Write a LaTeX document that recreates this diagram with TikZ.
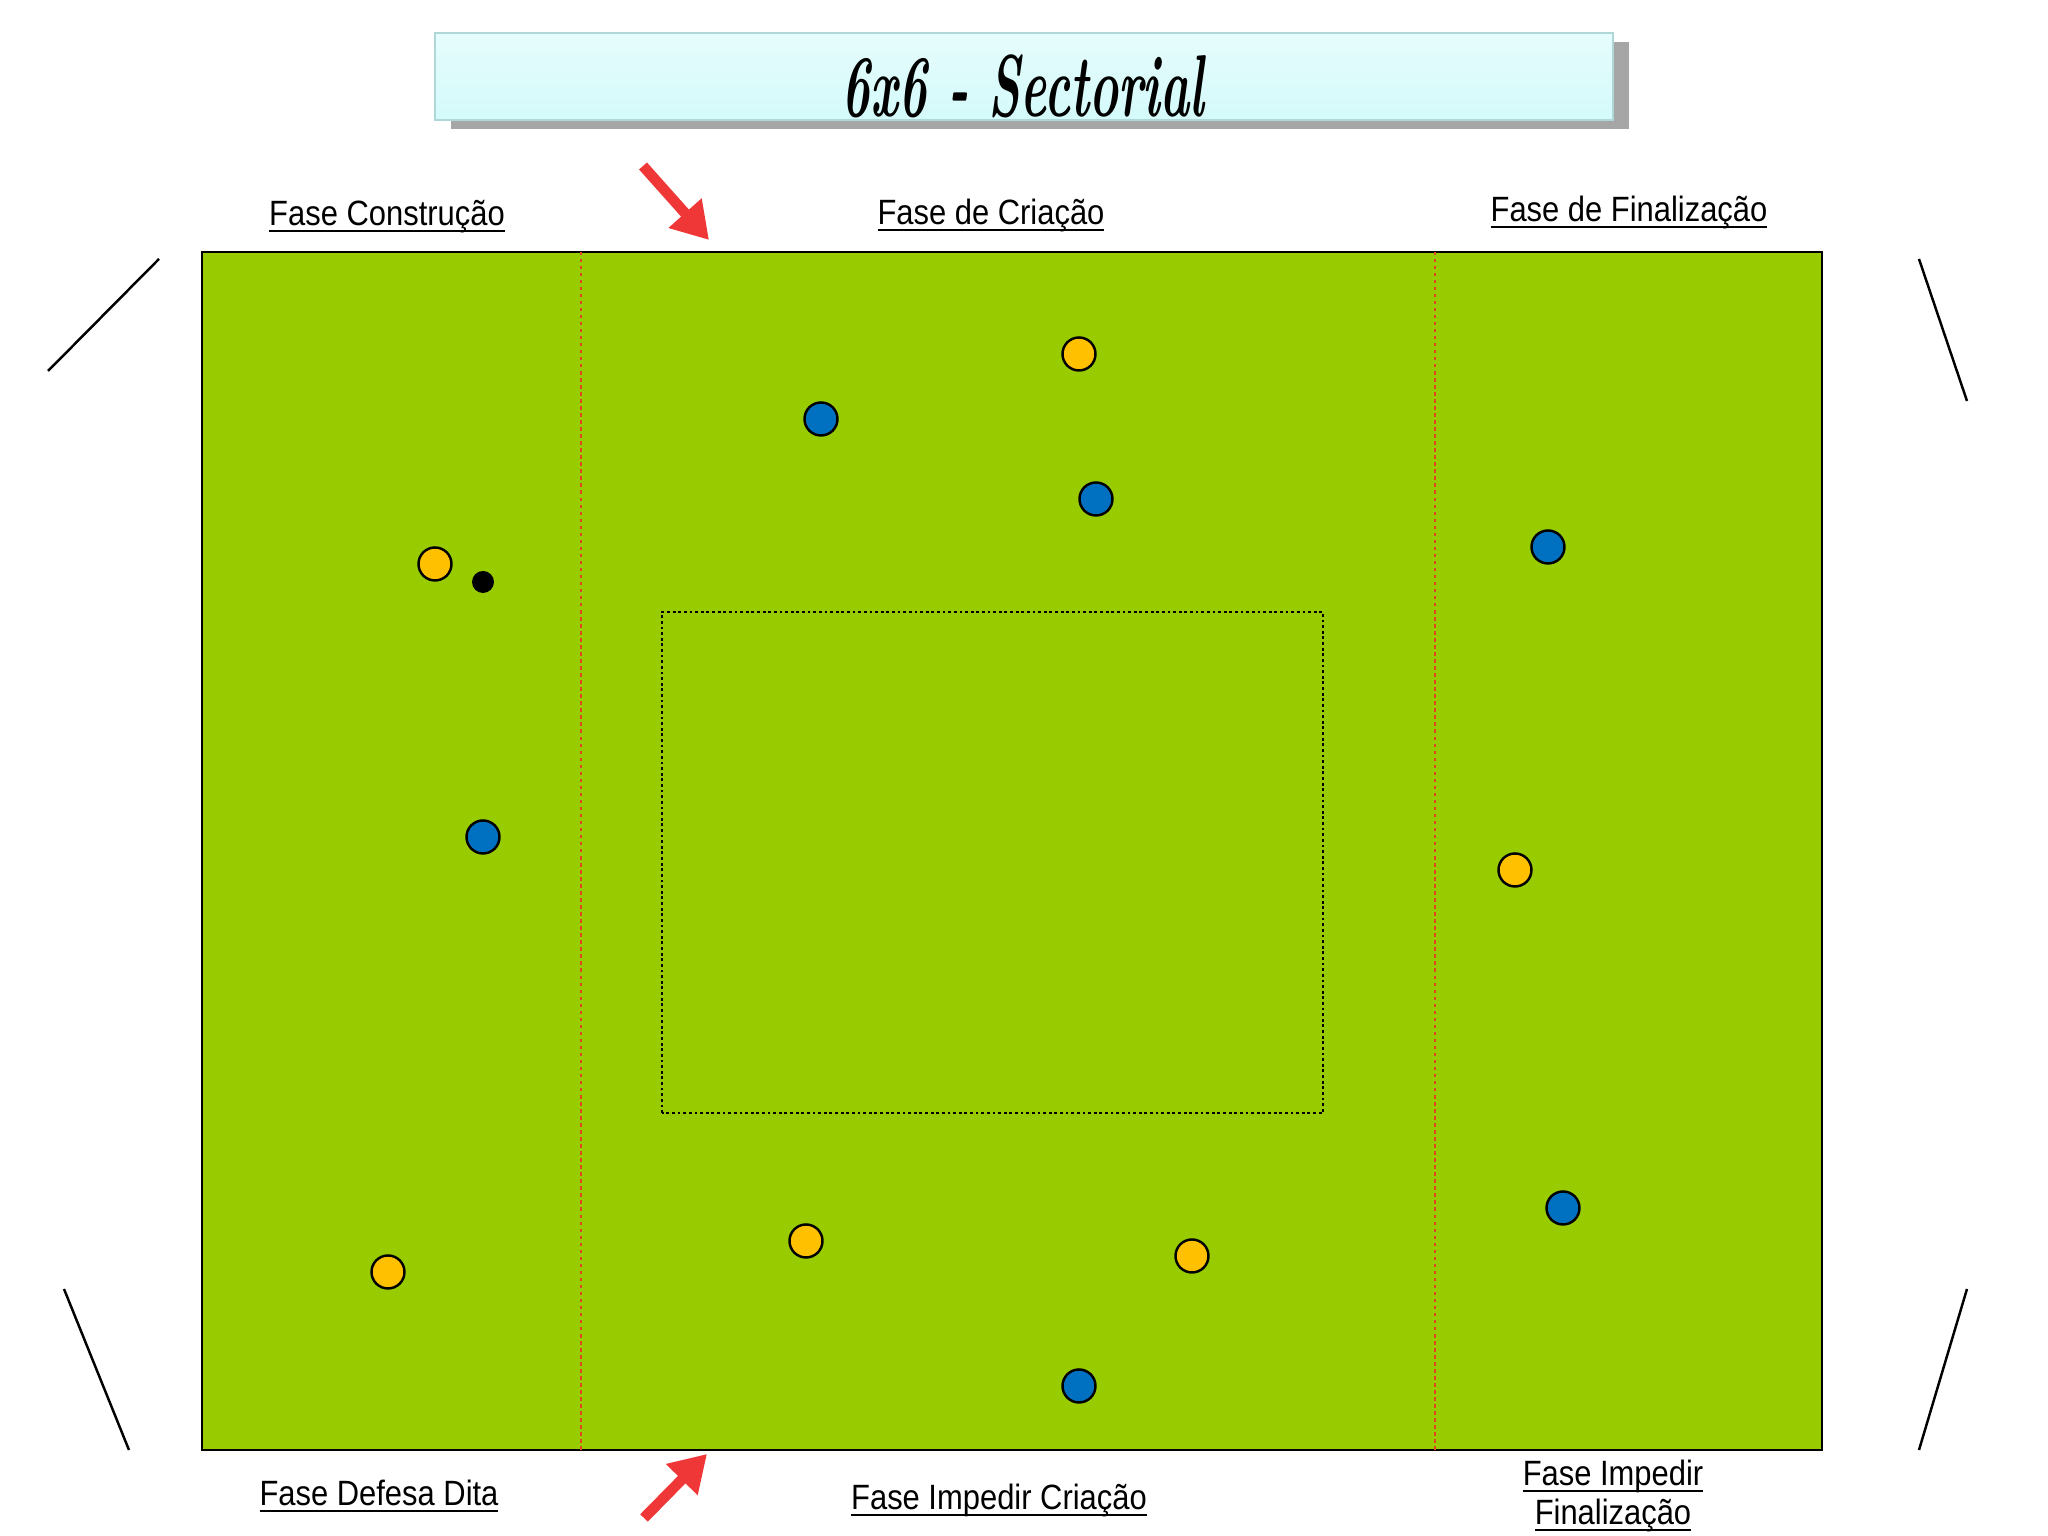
\documentclass[tikz,border=0pt]{standalone}
\usepackage{fontspec}
\usepackage{graphicx}
\usetikzlibrary{arrows.meta,calc,positioning}
\newfontfamily\rotulo[FakeStretch=0.88]{Liberation Sans}
\definecolor{relva}{RGB}{153,204,0}
\definecolor{amarelo}{RGB}{255,192,0}
\definecolor{azul}{RGB}{0,112,192}
\definecolor{vermelho}{RGB}{240,55,55}
\definecolor{tracado}{RGB}{225,70,30}
\definecolor{cianoA}{RGB}{230,252,252}
\definecolor{cianoB}{RGB}{212,250,250}
\definecolor{bordaciano}{RGB}{175,215,215}
\newcommand\sublinha[1]{\setbox0\hbox{#1}\rlap{\rule[-1.8pt]{\wd0}{0.6pt}}\box0}

\begin{document}
\begin{tikzpicture}[every node/.style={font=\rotulo\fontsize{10}{11}\selectfont},
  jogador/.style={circle,draw=black,line width=0.7pt,minimum size=0.33cm,inner sep=0pt},
  linhacanto/.style={line width=0.7pt}]
  \useasboundingbox (0,0) rectangle (20.48,15.36);
  \fill[gray!70] (4.51,14.07) rectangle (16.29,14.94);
  \draw[draw=bordaciano,top color=cianoA,bottom color=cianoB] (4.35,14.16) rectangle (16.13,15.03);
  \node[font=\rmfamily\bfseries\itshape\fontsize{25}{27}\selectfont] (titulo) at (10.23,14.5) {\scalebox{0.56}[1]{6x6 - Sectorial}};
  \draw[fill=relva,line width=0.6pt] (2.02,0.86) rectangle (18.22,12.84);
  \foreach \x in {5.81,14.35}{\draw[tracado,line width=0.4pt,dash pattern=on 1pt off 1pt] (\x,0.86)--(\x,12.84);}
  \draw[line width=0.6pt,dash pattern=on 0.8pt off 0.8pt] (6.62,4.23) rectangle (13.23,9.24);
  \draw[linhacanto] (0.48,11.65)--(1.59,12.77); \draw[linhacanto] (19.19,12.77)--(19.67,11.35);
  \draw[linhacanto] (0.64,2.47)--(1.29,0.86); \draw[linhacanto] (19.67,2.47)--(19.19,0.86);
  \foreach \nome/\x/\y in {am1/10.79/11.82,am2/4.35/9.72,am3/15.15/6.66,am4/3.88/2.64,am5/8.06/2.95,am6/11.92/2.80}{
    \node[jogador,fill=amarelo] (\nome) at (\x,\y) {};}
  \foreach \nome/\x/\y in {az1/8.21/11.17,az2/10.96/10.37,az3/15.48/9.89,az4/4.83/6.99,az5/15.63/3.28,az6/10.79/1.50}{
    \node[jogador,fill=azul] (\nome) at (\x,\y) {};}
  \node[circle,fill=black,minimum size=0.22cm,inner sep=0pt] (bola) at (4.83,9.54) {};
  \node (construcao) at (3.87,13.19) {\sublinha{Fase Construção}};
  \node (criacao) at (9.91,13.20) {\sublinha{Fase de Criação}};
  \node (finalizacao) at (16.29,13.23) {\sublinha{Fase de Finalização}};
  \node (defesa) at (3.79,0.40) {\sublinha{Fase Defesa Dita}};
  \node (impcriacao) at (9.99,0.35) {\sublinha{Fase Impedir Criação}};
  \node[align=center] (impfinal) at (16.13,0.40) {\sublinha{Fase Impedir}\\\sublinha{Finalização}};
  \coordinate (origemA) at (6.43,13.70); \coordinate (alvoA) at (7.09,12.96);
  \coordinate (origemB) at (6.44,0.18); \coordinate (alvoB) at (7.07,0.82);
  \draw[vermelho,line width=3pt,-{Triangle[length=0.36cm,width=0.42cm]}] (origemA)--(alvoA);
  \draw[vermelho,line width=3pt,-{Triangle[length=0.36cm,width=0.42cm]}] (origemB)--(alvoB);
\end{tikzpicture}
\end{document}
